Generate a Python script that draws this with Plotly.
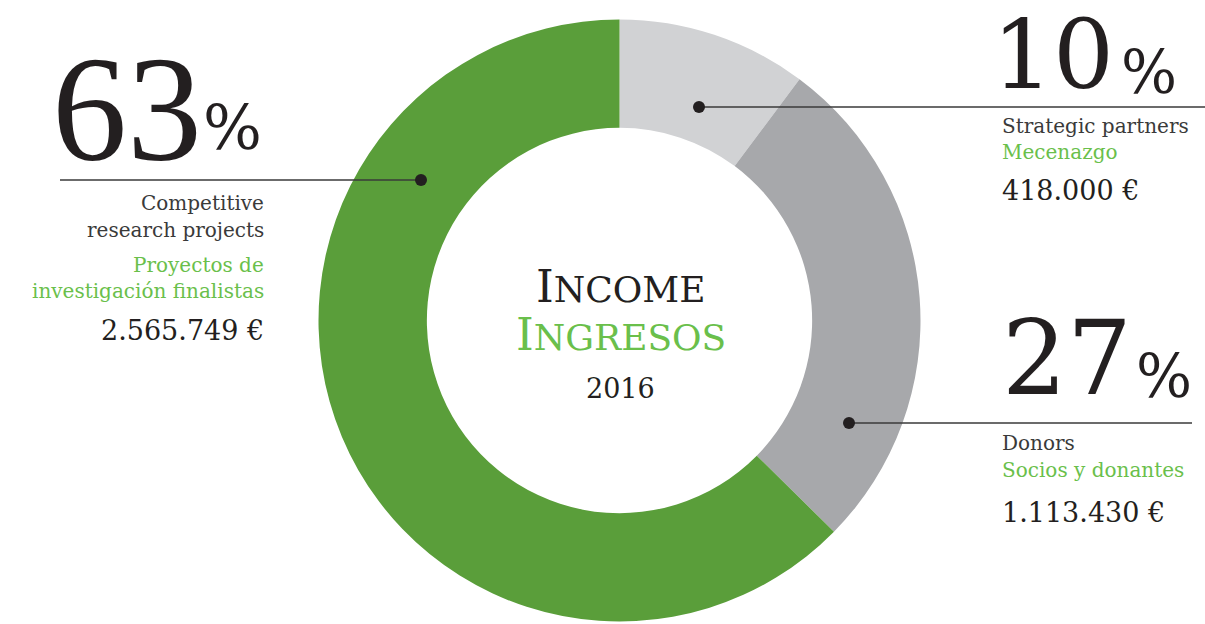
import plotly.graph_objects as go

# Income 2016
labels = ["Strategic partners", "Donors", "Competitive research projects"]
labels_es = ["Mecenazgo", "Socios y donantes", "Proyectos de investigación finalistas"]
amounts = [418000, 1113430, 2565749]
amount_text = ["418.000 €", "1.113.430 €", "2.565.749 €"]
pct_text = ["10", "27", "63"]
colors = ["#d1d2d4", "#a7a8ab", "#5a9e3a"]

W, H = 1205, 624
BLACK = "#231f20"
GREY_TXT = "#3a3a3a"
GREEN_TXT = "#6abf4b"
SERIF = "DejaVu Serif"
SERIF2 = "Liberation Serif"


def px(x, y):
    return x / W, 1 - y / H


fig = go.Figure()
fig.add_trace(go.Pie(
    labels=labels, values=amounts, marker=dict(colors=colors, line=dict(width=0)),
    hole=0.64, sort=False, direction="clockwise", rotation=0,
    textinfo="none", hoverinfo="label+value+percent", showlegend=False,
    domain=dict(x=[318.5 / W, 920.5 / W], y=[1 - 621.5 / H, 1 - 19.5 / H]),
))

annotations = []
shapes = []


def text(x, y, s, size, color=BLACK, xanchor="left", yanchor="middle", font=SERIF):
    ax, ay = px(x, y)
    annotations.append(dict(x=ax, y=ay, xref="paper", yref="paper", text=s, showarrow=False,
                            xanchor=xanchor, yanchor=yanchor,
                            font=dict(family=font, size=size, color=color)))


def leader(x0, x1, y):
    a0, b = px(x0, y)
    a1, _ = px(x1, y)
    shapes.append(dict(type="line", xref="paper", yref="paper", x0=a0, x1=a1, y0=b, y1=b,
                       line=dict(color="#3a3a3a", width=1.6)))


def dot(x, y, r=6):
    a0, b0 = px(x - r, y + r)
    a1, b1 = px(x + r, y - r)
    shapes.append(dict(type="circle", xref="paper", yref="paper", x0=a0, x1=a1, y0=b0, y1=b1,
                       fillcolor=BLACK, line=dict(width=0)))


# left: competitive research projects
text(50, 109, pct_text[2], 150, font=SERIF2)
text(201, 128, "%", 62)
leader(60, 421, 180)
dot(421, 180)
text(266, 203, "Competitive", 20, GREY_TXT, xanchor="right")
text(266, 230, "research projects", 20, GREY_TXT, xanchor="right")
text(266, 265, "Proyectos de", 20, GREEN_TXT, xanchor="right")
text(266, 291, "investigación finalistas", 20, GREEN_TXT, xanchor="right")
text(266, 330, amount_text[2], 27, xanchor="right")

# top right: strategic partners
text(990, 55, pct_text[0], 96)
text(1119, 72, "%", 59)
leader(699, 1205, 107)
dot(699, 107)
text(1000, 126, labels[0], 20, GREY_TXT)
text(1000, 152, labels_es[0], 20, GREEN_TXT)
text(1000, 190, amount_text[0], 27)

# bottom right: donors
text(1000, 358, pct_text[1], 102)
text(1134, 376, "%", 59)
leader(849, 1192, 423)
dot(849, 423)
text(1000, 443, labels[1], 20, GREY_TXT)
text(1000, 470, labels_es[1], 20, GREEN_TXT)
text(1000, 512, amount_text[1], 27)

# centre title
text(621, 287, "I<span style='font-size:36px'>NCOME</span>", 45, xanchor="center")
text(621, 334, "I<span style='font-size:36px'>NGRESOS</span>", 45, GREEN_TXT, xanchor="center")
text(621, 388, "2016", 27, xanchor="center")

fig.update_layout(
    width=W, height=H, margin=dict(l=0, r=0, t=0, b=0),
    paper_bgcolor="white", plot_bgcolor="white",
    annotations=annotations, shapes=shapes,
)

fig.write_html("out.html", config={"displayModeBar": False},
               post_script="document.body.style.margin='0';")
